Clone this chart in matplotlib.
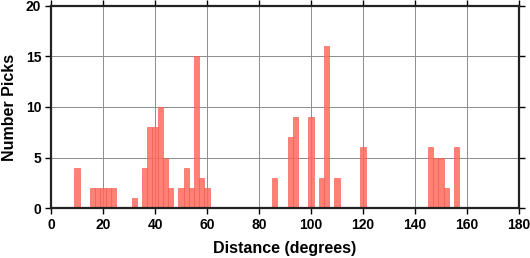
import numpy as np
import matplotlib
matplotlib.use("Agg")
import matplotlib.pyplot as plt

plt.rcParams.update({"font.family": ["Liberation Sans", "DejaVu Sans"], "font.weight": "bold"})

# bin centres (degrees) and counts, 2-degree bins
centers = [10, 16, 18, 20, 22, 24, 32, 36, 38, 40, 42, 44, 46, 50, 52, 54, 56, 58, 60,
           86, 92, 94, 100, 104, 106, 110, 120, 146, 148, 150, 152, 156]
counts = [4, 2, 2, 2, 2, 2, 1, 4, 8, 8, 10, 5, 2, 2, 4, 2, 15, 3, 2,
          3, 7, 9, 9, 3, 16, 3, 6, 6, 5, 5, 2, 6]
xticks = np.arange(0, 181, 20)
yticks = np.arange(0, 21, 5)

fig = plt.figure(figsize=(5.3, 2.58), dpi=100)
ax = fig.add_axes([51 / 530, 1 - 208 / 258, 468 / 530, 202 / 258])
ax.bar(centers, counts, width=2, color="#ff6a5c", alpha=0.85,
       edgecolor="#f25a4c", linewidth=0.5, zorder=2)
ax.set_xlim(0, 180); ax.set_ylim(0, 20)
ax.set_xticks(xticks); ax.set_yticks(yticks)
ax.grid(True, color="#8c8c8c", lw=0.7, zorder=1)
ax.set_axisbelow(True)
for s in ax.spines.values():
    s.set_linewidth(1.6); s.set_color("#222222"); s.set_zorder(4)
ax.tick_params(direction="out", length=4, width=1, labelsize=10,
               top=True, right=True, pad=3)
ax.set_xlabel("Distance (degrees)", fontsize=11.5, fontweight="bold", labelpad=7)
ax.set_ylabel("Number Picks", fontsize=11.5, fontweight="bold", labelpad=6)
fig.savefig("out.png", dpi=100)
